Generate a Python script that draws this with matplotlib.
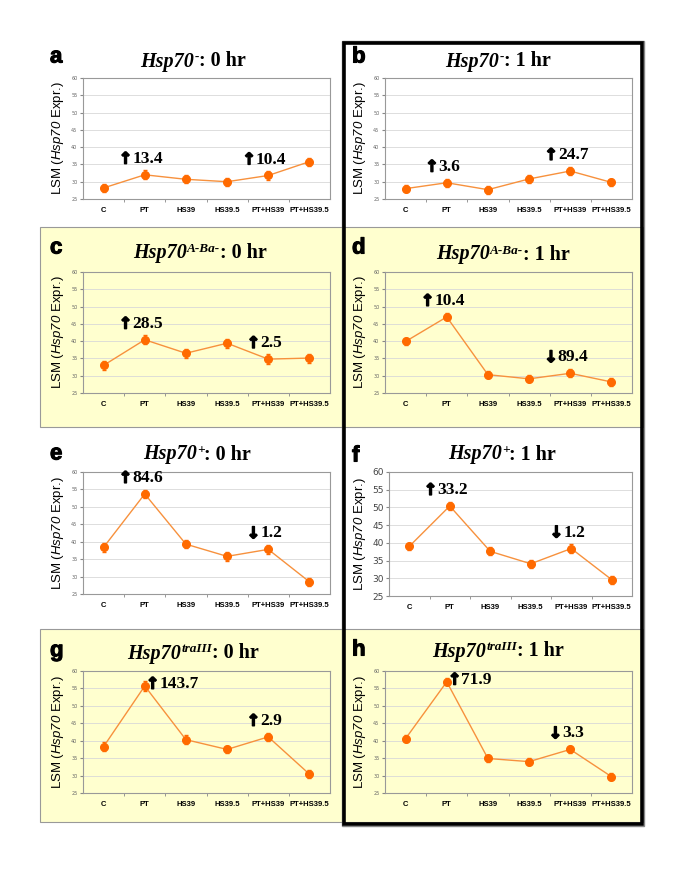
import matplotlib
matplotlib.use('Agg')
from matplotlib import pyplot as plt
from matplotlib.patches import Rectangle
from matplotlib import patheffects

plt.rcParams['mathtext.fontset'] = 'custom'
plt.rcParams['mathtext.sf'] = 'Liberation Sans:italic'

# treatments on the x axis
categories = ['C', 'PT', 'HS39', 'HS39.5', 'PT+HS39', 'PT+HS39.5']

# LSM values
values_a = [28.2, 32.0, 30.7, 30.0, 31.8, 35.8]
values_b = [28.0, 29.7, 27.7, 30.8, 33.1, 29.8]
values_c = [33.0, 40.4, 36.5, 39.4, 34.8, 35.1]
values_d = [39.9, 47.0, 30.3, 29.1, 30.7, 28.2]
values_e = [38.4, 53.7, 39.3, 35.8, 37.8, 28.5]
values_f = [39.0, 50.4, 37.6, 34.1, 38.4, 29.6]
values_g = [38.3, 55.7, 40.3, 37.5, 41.1, 30.4]
values_h = [40.6, 56.9, 34.9, 34.0, 37.5, 29.7]

# error bars
errors_a = [1.1, 1.3, 1.1, 1.2, 1.2, 1.2]
errors_b = [1.1, 1.1, 1.2, 1.1, 1.1, 1.1]
errors_c = [1.3, 1.3, 1.3, 1.3, 1.4, 1.3]
errors_d = [1.1, 1.0, 1.1, 1.0, 1.1, 1.1]
errors_e = [1.3, 1.2, 1.1, 1.2, 1.3, 1.2]
errors_f = [1.1, 1.1, 1.1, 1.2, 1.2, 1.1]
errors_g = [1.3, 1.3, 1.2, 1.1, 1.2, 1.2]
errors_h = [1.0, 1.0, 1.0, 1.1, 1.1, 1.1]

# fold changes shown above PT and PT+HS39 (value, direction)
changes_a = [(13.4, 'up'), (10.4, 'up')]
changes_b = [(3.6, 'up'), (24.7, 'up')]
changes_c = [(28.5, 'up'), (2.5, 'up')]
changes_d = [(10.4, 'up'), (89.4, 'down')]
changes_e = [(84.6, 'up'), (1.2, 'down')]
changes_f = [(33.2, 'up'), (1.2, 'down')]
changes_g = [(143.7, 'up'), (2.9, 'up')]
changes_h = [(71.9, 'up'), (3.3, 'down')]

genotypes = ['-', 'A-Ba-', '+', 'traIII']
times = ['0 hr', '1 hr']
panel_letters = ['a', 'b', 'c', 'd', 'e', 'f', 'g', 'h']

all_values = [values_a, values_b, values_c, values_d, values_e, values_f, values_g, values_h]
all_errors = [errors_a, errors_b, errors_c, errors_d, errors_e, errors_f, errors_g, errors_h]
all_changes = [changes_a, changes_b, changes_c, changes_d, changes_e, changes_f, changes_g, changes_h]

W, H = 685, 886
YELLOW = '#FFFFCF'
ORANGE = '#FF6A00'
LINE = '#F7913D'
NARROW = ['Liberation Sans Narrow', 'DejaVu Sans Condensed', 'Liberation Sans']


def fx(px):
    return px / W


def fy(py):
    return 1 - py / H


def figbox(fig, x0, y0, x1, y1, **kw):
    r = Rectangle((fx(x0), fy(y1)), fx(x1) - fx(x0), fy(y0) - fy(y1),
                  transform=fig.transFigure, **kw)
    fig.patches.append(r)


fig = plt.figure(figsize=(W / 100, H / 100), dpi=100)

# yellow bands behind rows c/d and g/h
figbox(fig, 40, 227, 643, 427, facecolor=YELLOW, edgecolor='#999999', lw=0.8, zorder=-5)
figbox(fig, 40, 629, 643, 822, facecolor=YELLOW, edgecolor='#999999', lw=0.8, zorder=-5)
# black frame round the 1 hr column
figbox(fig, 342, 41, 644, 826, facecolor='none', edgecolor='#888888', lw=1.0, zorder=5)
figbox(fig, 344, 43, 642, 824, facecolor='none', edgecolor='black', lw=2.6, zorder=5)

row_px = [(78, 199), (272, 393), (472, 594), (671, 793)]
col_px = [(83, 330), (385, 632)]
title_x = [[193, 498], [200, 503], [197, 502], [193, 498]]
title_y = [[60, 60], [252, 253], [453, 453], [652, 650]]
letter_y = [[57, 57], [248, 248], [454, 456], [651, 650]]

heavy = [patheffects.withStroke(linewidth=1.1, foreground='black')]
title_parts = []

for i in range(8):
    row, col = i // 2, i % 2
    x0, x1 = col_px[col]
    y0, y1 = row_px[row]
    if i == 5:
        x0, y1 = 389, 596
    ax = fig.add_axes([fx(x0), fy(y1), fx(x1) - fx(x0), fy(y0) - fy(y1)])
    ax.set_facecolor('white' if row in (0, 2) else 'none')

    xs = list(range(len(categories)))
    vals = all_values[i]
    ax.errorbar(xs, vals, yerr=all_errors[i], color=LINE, lw=1.0, marker='o',
                markersize=5.5, markerfacecolor=ORANGE, markeredgecolor=ORANGE,
                ecolor=ORANGE, elinewidth=1.0, capsize=1.5, zorder=3)

    ax.set_xlim(-0.5, 5.5)
    ax.set_ylim(25, 60)
    ax.set_yticks(range(25, 61, 5))
    ax.yaxis.grid(True, color='#d8d8d8', lw=0.6)
    ax.set_axisbelow(True)
    ax.set_xticks(xs)
    ax.set_xticklabels(categories, fontsize=5.5, fontweight='bold', family=NARROW)
    ax.set_xticks([k + 0.5 for k in range(5)], minor=True)
    ax.tick_params(axis='x', which='major', length=0, pad=6)
    ax.tick_params(axis='x', which='minor', length=2.5, color='#888888')
    if i == 5:
        ax.tick_params(axis='y', labelsize=6.5, labelcolor='#444444', length=2,
                       color='#888888', pad=2)
    else:
        ax.tick_params(axis='y', labelsize=3.5, labelcolor='#666666', length=2,
                       color='#888888', pad=2)
    for s in ax.spines.values():
        s.set_color('#999999')
        s.set_linewidth(0.8)
    ax.set_ylabel(r'LSM ($\mathsf{Hsp70}$ Expr.)', fontsize=9.5,
                  family='Liberation Sans', labelpad=4 if i != 5 else 3)

    # fold change annotations: number, with a bold arrow just to its left
    for (val, direction), k in zip(all_changes[i], [1, 4]):
        arrow = '\u2191' if direction == 'up' else '\u2193'
        if vals[k] > 55:
            off, ha = (10.5, 1.5), 'left'
        else:
            off, ha = (2, 11.5), 'center'
        num = ax.annotate(f'{val}', (k, vals[k]), xytext=off,
                          textcoords='offset points', ha=ha, va='center',
                          fontsize=12.5, fontweight='bold', family='Liberation Serif')
        ax.annotate(arrow, (0, 0.48), xycoords=num, xytext=(0, 0),
                    textcoords='offset points', ha='right', va='center',
                    fontsize=11.5, fontweight='bold', family='DejaVu Sans',
                    path_effects=heavy)

    # title pieces: italic gene name, superscript allele, plain time
    cx, cy = title_x[row][col], title_y[row][col]
    pieces = [
        fig.text(0, fy(cy + 6.5), 'Hsp70', fontsize=14.5, style='italic',
                 fontweight='bold', family='Liberation Serif', va='baseline'),
        fig.text(0, fy(cy + 0.5), genotypes[row], fontsize=9.5, style='italic',
                 fontweight='bold', family='Liberation Serif', va='baseline'),
        fig.text(0, fy(cy + 6.5), ': ' + times[col], fontsize=14.5,
                 fontweight='bold', family='Liberation Serif', va='baseline'),
    ]
    title_parts.append((cx, pieces))

    fig.text(fx(50 if col == 0 else 352), fy(letter_y[row][col]), panel_letters[i],
             ha='left', va='center', fontsize=16, fontweight='bold', family=NARROW,
             path_effects=[patheffects.withStroke(linewidth=0.8, foreground='black')])

# centre each title now that text widths are known
renderer = fig.canvas.get_renderer()
for cx, pieces in title_parts:
    widths = [p.get_window_extent(renderer).width for p in pieces]
    x = cx - sum(widths) / 2
    for p, w in zip(pieces, widths):
        p.set_x(fx(x))
        x += w

fig.savefig('out.png', dpi=100)
